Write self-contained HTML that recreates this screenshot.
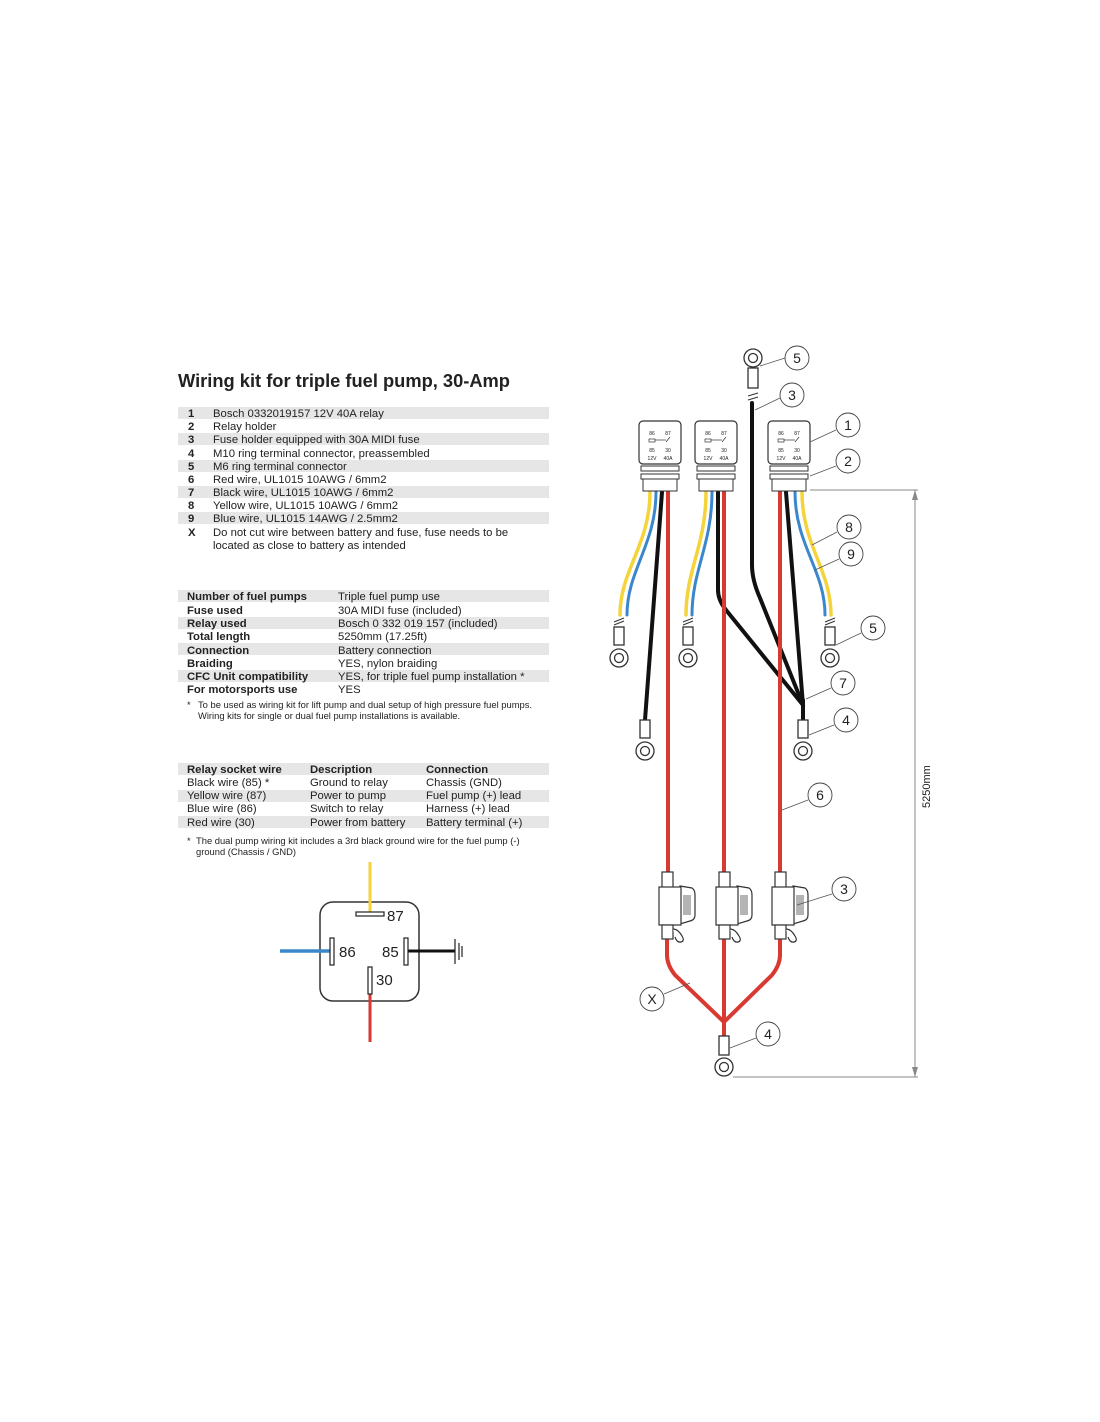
<!DOCTYPE html>
<html><head><meta charset="utf-8"><style>
body{margin:0;background:#fff}
svg{display:block}
text{font-family:"Liberation Sans",sans-serif;fill:#222}
.t{font-size:11.3px}
.b{font-weight:bold}
.s{font-size:9.4px}
.n{font-size:14px;text-anchor:middle}
</style></head><body>
<svg width="1100" height="1422" viewBox="0 0 1100 1422" xmlns="http://www.w3.org/2000/svg">
<text x="178" y="387" font-size="18.3" font-weight="bold">Wiring kit for triple fuel pump, 30-Amp</text>
<g fill="#e6e6e6">
<rect x="178" y="407" width="371" height="12"/><rect x="178" y="433" width="371" height="12"/><rect x="178" y="460" width="371" height="12"/><rect x="178" y="486" width="371" height="12"/><rect x="178" y="512" width="371" height="12"/>
<rect x="178" y="590" width="371" height="12"/><rect x="178" y="617" width="371" height="12"/><rect x="178" y="643" width="371" height="12"/><rect x="178" y="670" width="371" height="12"/>
<rect x="178" y="763" width="371" height="12"/><rect x="178" y="790" width="371" height="12"/><rect x="178" y="816" width="371" height="12"/>
</g>
<g class="t">
<text x="188" y="417" class="b">1</text><text x="213" y="417">Bosch 0332019157 12V 40A relay</text>
<text x="188" y="430" class="b">2</text><text x="213" y="430">Relay holder</text>
<text x="188" y="443" class="b">3</text><text x="213" y="443">Fuse holder equipped with 30A MIDI fuse</text>
<text x="188" y="457" class="b">4</text><text x="213" y="457">M10 ring terminal connector, preassembled</text>
<text x="188" y="470" class="b">5</text><text x="213" y="470">M6 ring terminal connector</text>
<text x="188" y="483" class="b">6</text><text x="213" y="483">Red wire, UL1015 10AWG / 6mm2</text>
<text x="188" y="496" class="b">7</text><text x="213" y="496">Black wire, UL1015 10AWG / 6mm2</text>
<text x="188" y="509" class="b">8</text><text x="213" y="509">Yellow wire, UL1015 10AWG / 6mm2</text>
<text x="188" y="522" class="b">9</text><text x="213" y="522">Blue wire, UL1015 14AWG / 2.5mm2</text>
<text x="188" y="536" class="b">X</text><text x="213" y="536">Do not cut wire between battery and fuse, fuse needs to be</text>
<text x="213" y="549">located as close to battery as intended</text>

<text x="187" y="600" class="b">Number of fuel pumps</text><text x="338" y="600">Triple fuel pump use</text>
<text x="187" y="614" class="b">Fuse used</text><text x="338" y="614">30A MIDI fuse (included)</text>
<text x="187" y="627" class="b">Relay used</text><text x="338" y="627">Bosch 0 332 019 157 (included)</text>
<text x="187" y="640" class="b">Total length</text><text x="338" y="640">5250mm (17.25ft)</text>
<text x="187" y="654" class="b">Connection</text><text x="338" y="654">Battery connection</text>
<text x="187" y="667" class="b">Braiding</text><text x="338" y="667">YES, nylon braiding</text>
<text x="187" y="680" class="b">CFC Unit compatibility</text><text x="338" y="680">YES, for triple fuel pump installation *</text>
<text x="187" y="693" class="b">For motorsports use</text><text x="338" y="693">YES</text>
</g>
<text x="187" y="708" class="s">*</text><text x="198" y="708" class="s">To be used as wiring kit for lift pump and dual setup of high pressure fuel pumps.</text>
<text x="198" y="719" class="s">Wiring kits for single or dual fuel pump installations is available.</text>
<g class="t">
<text x="187" y="773" class="b">Relay socket wire</text><text x="310" y="773" class="b">Description</text><text x="426" y="773" class="b">Connection</text>
<text x="187" y="786">Black wire (85) *</text><text x="310" y="786">Ground to relay</text><text x="426" y="786">Chassis (GND)</text>
<text x="187" y="799">Yellow wire (87)</text><text x="310" y="799">Power to pump</text><text x="426" y="799">Fuel pump (+) lead</text>
<text x="187" y="812">Blue wire (86)</text><text x="310" y="812">Switch to relay</text><text x="426" y="812">Harness (+) lead</text>
<text x="187" y="826">Red wire (30)</text><text x="310" y="826">Power from battery</text><text x="426" y="826">Battery terminal (+)</text>
</g>
<text x="187" y="844" class="s">*</text><text x="196" y="844" class="s">The dual pump wiring kit includes a 3rd black ground wire for the fuel pump (-)</text>
<text x="196" y="855" class="s">ground (Chassis / GND)</text>

<rect x="320" y="902" width="99" height="99" rx="13" fill="none" stroke="#333" stroke-width="1.5"/>
<line x1="370" y1="862" x2="370" y2="912" stroke="#f5d33b" stroke-width="3"/>
<line x1="280" y1="951" x2="331" y2="951" stroke="#3a87cc" stroke-width="3.5"/>
<line x1="408" y1="951" x2="455" y2="951" stroke="#111" stroke-width="3"/>
<line x1="370" y1="993" x2="370" y2="1042" stroke="#d83a32" stroke-width="3"/>
<g fill="#fff" stroke="#222" stroke-width="1.2">
<rect x="356" y="912" width="28" height="4"/><rect x="330" y="938" width="4" height="27"/><rect x="404" y="938" width="4" height="27"/><rect x="368" y="967" width="4" height="27"/>
</g>
<g stroke="#222" stroke-width="1.2"><line x1="455" y1="939" x2="455" y2="964"/><line x1="459" y1="943" x2="459" y2="960"/><line x1="462" y1="946" x2="462" y2="957"/></g>
<g font-size="15"><text x="387" y="921">87</text><text x="339" y="957">86</text><text x="382" y="957">85</text><text x="376" y="985">30</text></g>

<g fill="none" stroke-linecap="round">
<path d="M650 492 C650 545 620 570 620 615" stroke="#f5d33b" stroke-width="3.5"/>
<path d="M656 492 C656 545 627 570 627 615" stroke="#3a87cc" stroke-width="3"/>
<path d="M662 492 L645 720" stroke="#111" stroke-width="4"/>
<path d="M668 492 L668 872" stroke="#d83a32" stroke-width="4"/>
<path d="M706 492 C706 545 686 570 686 615" stroke="#f5d33b" stroke-width="3.5"/>
<path d="M712 492 C712 545 692 570 692 615" stroke="#3a87cc" stroke-width="3"/>
<path d="M718 492 L718 590 Q718 600 726 610 L803 705" stroke="#111" stroke-width="4"/>
<path d="M724 492 L724 872" stroke="#d83a32" stroke-width="4"/>
<path d="M752 403 L752 565 Q752 580 760 598 L803 705" stroke="#111" stroke-width="4"/>
<path d="M780 492 L780 872" stroke="#d83a32" stroke-width="4"/>
<path d="M786 492 L803 705" stroke="#111" stroke-width="4"/>
<path d="M795 492 C795 545 825 570 825 615" stroke="#3a87cc" stroke-width="3"/>
<path d="M802 492 C802 545 831 570 831 615" stroke="#f5d33b" stroke-width="3.5"/>
<line x1="803" y1="700" x2="803" y2="722" stroke="#111" stroke-width="4"/>
<path d="M667 940 L667 955 Q667 965 675 975 L724 1022 M724 940 L724 1040 M780 940 L780 955 Q780 965 772 975 L724 1022" stroke="#d83a32" stroke-width="4"/>
</g>
<g stroke="#333" stroke-width="1">
<line x1="614" y1="622" x2="624" y2="618"/><line x1="614" y1="625" x2="624" y2="621"/>
<line x1="683" y1="622" x2="693" y2="618"/><line x1="683" y1="625" x2="693" y2="621"/>
<line x1="825" y1="622" x2="835" y2="618"/><line x1="825" y1="625" x2="835" y2="621"/>
<line x1="748" y1="396" x2="758" y2="393"/><line x1="748" y1="400" x2="758" y2="397"/>
</g>
<g fill="#fff" stroke="#333" stroke-width="1.3">
<rect x="614" y="627" width="10" height="18"/><circle cx="619" cy="658" r="9"/><circle cx="619" cy="658" r="4.5"/>
<rect x="683" y="627" width="10" height="18"/><circle cx="688" cy="658" r="9"/><circle cx="688" cy="658" r="4.5"/>
<rect x="825" y="627" width="10" height="18"/><circle cx="830" cy="658" r="9"/><circle cx="830" cy="658" r="4.5"/>
<rect x="640" y="720" width="10" height="18"/><circle cx="645" cy="751" r="9"/><circle cx="645" cy="751" r="4.5"/>
<rect x="798" y="720" width="10" height="18"/><circle cx="803" cy="751" r="9"/><circle cx="803" cy="751" r="4.5"/>
<rect x="748" y="368" width="10" height="20"/><circle cx="753" cy="358" r="9"/><circle cx="753" cy="358" r="4.5"/>
<rect x="719" y="1036" width="10" height="19"/><circle cx="724" cy="1067" r="9"/><circle cx="724" cy="1067" r="4.5"/>
</g>
<g id="rl">
<rect x="639" y="421" width="42" height="43" rx="4" fill="#fff" stroke="#333" stroke-width="1.2"/>
<rect x="641" y="466" width="38" height="5" fill="#fff" stroke="#333"/>
<rect x="641" y="474" width="38" height="5" fill="#fff" stroke="#333"/>
<rect x="643" y="479" width="34" height="12" fill="#fff" stroke="#333"/>
<g font-size="5" text-anchor="middle"><text x="652" y="435">86</text><text x="668" y="435">87</text><text x="652" y="452">85</text><text x="668" y="452">30</text><text x="652" y="460">12V</text><text x="668" y="460">40A</text></g>
<g stroke="#333" stroke-width="0.7"><rect x="649" y="439" width="6" height="3" fill="none"/><line x1="655" y1="440" x2="666" y2="440"/><line x1="666" y1="442" x2="670" y2="437"/></g>
</g>
<use href="#rl" x="56"/>
<use href="#rl" x="129"/>
<g id="fs" fill="#fff" stroke="#333" stroke-width="1.2">
<rect x="662" y="872" width="11" height="16"/>
<path d="M680 886 L692 888 Q695 890 695 895 L695 915 Q695 920 690 921 L680 924 Z"/>
<g stroke="#444" stroke-width="0.8" fill="none"><line x1="684" y1="895" x2="684" y2="915"/><line x1="686" y1="895" x2="686" y2="915"/><line x1="688" y1="895" x2="688" y2="915"/><line x1="690" y1="895" x2="690" y2="915"/></g>
<rect x="659" y="887" width="22" height="38"/>
<rect x="662" y="925" width="11" height="14"/>
<path d="M673 929 Q678 929 682 936 Q685 941 681 942 Q677 943 675 937"/>
</g>
<use href="#fs" x="57"/>
<use href="#fs" x="113"/>
<g stroke="#888" stroke-width="1" fill="none">
<line x1="810" y1="490" x2="918" y2="490"/><line x1="733" y1="1077" x2="918" y2="1077"/><line x1="915" y1="490" x2="915" y2="1077"/>
</g>
<path d="M915 490 L912 500 L918 500 Z M915 1077 L912 1067 L918 1067 Z" fill="#888"/>
<text transform="translate(930 808) rotate(-90)" font-size="11" fill="#666">5250mm</text>
<g stroke="#555" stroke-width="0.8" fill="none">
<line x1="785" y1="358" x2="760" y2="366"/><line x1="780" y1="398" x2="755" y2="410"/>
<line x1="836" y1="430" x2="810" y2="442"/><line x1="836" y1="466" x2="810" y2="476"/>
<line x1="837" y1="532" x2="812" y2="545"/><line x1="839" y1="559" x2="815" y2="570"/>
<line x1="861" y1="633" x2="836" y2="645"/><line x1="831" y1="688" x2="806" y2="699"/>
<line x1="834" y1="725" x2="809" y2="735"/><line x1="808" y1="800" x2="782" y2="810"/>
<line x1="832" y1="894" x2="797" y2="905"/><line x1="664" y1="994" x2="690" y2="983"/>
<line x1="756" y1="1038" x2="730" y2="1048"/>
</g>
<g fill="#fff" stroke="#444" stroke-width="0.9">
<circle cx="797" cy="358" r="12"/><circle cx="792" cy="395" r="12"/><circle cx="848" cy="425" r="12"/><circle cx="848" cy="461" r="12"/><circle cx="849" cy="527" r="12"/><circle cx="851" cy="554" r="12"/><circle cx="873" cy="628" r="12"/><circle cx="843" cy="683" r="12"/><circle cx="846" cy="720" r="12"/><circle cx="820" cy="795" r="12"/><circle cx="844" cy="889" r="12"/><circle cx="652" cy="999" r="12"/><circle cx="768" cy="1034" r="12"/>
</g>
<g class="n">
<text x="797" y="363">5</text><text x="792" y="400">3</text><text x="848" y="430">1</text><text x="848" y="466">2</text><text x="849" y="532">8</text><text x="851" y="559">9</text><text x="873" y="633">5</text><text x="843" y="688">7</text><text x="846" y="725">4</text><text x="820" y="800">6</text><text x="844" y="894">3</text><text x="652" y="1004">X</text><text x="768" y="1039">4</text>
</g>
</svg>
</body></html>
